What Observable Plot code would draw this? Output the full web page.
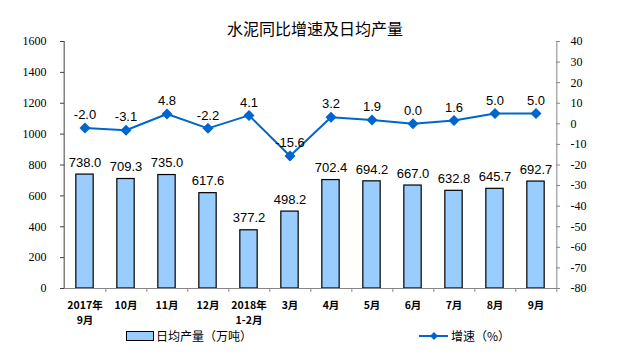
<!DOCTYPE html>
<html><head><meta charset="utf-8">
<script src="https://cdn.jsdelivr.net/npm/d3@7"></script>
<script src="https://cdn.jsdelivr.net/npm/@observablehq/plot@0.6"></script>
<style>
body{margin:0;background:#fff}
#wrap{position:relative;width:624px;height:353px;overflow:hidden;background:#fff}
#wrap svg.chart{position:absolute;left:0;top:0}
#title{position:absolute;left:0;top:17px;width:630px;text-align:center;font:16px "Noto Sans CJK SC",sans-serif;color:#000;line-height:22px}
.leg{position:absolute;top:327px;font:12px "Noto Sans CJK SC",sans-serif;color:#000;line-height:18px;display:flex;align-items:center}
</style></head><body>
<div id="wrap">
<div id="title">水泥同比增速及日均产量</div>
<div class="leg" style="left:126px"><svg width="30" height="18"><rect x="0.5" y="4.5" width="27" height="9" fill="#99CCFF" stroke="#000"/></svg><span>日均产量（万吨）</span></div>
<div class="leg" style="left:419px"><svg width="32" height="18"><line x1="0" y1="9" x2="29" y2="9" stroke="#0066CC" stroke-width="2"/><path d="M15,5L19,9L15,13L11,9Z" fill="#0066CC"/></svg><span>增速（%）</span></div>
</div>
<script>
const categories = ["2017年\n9月","10月","11月","12月","2018年\n1-2月","3月","4月","5月","6月","7月","8月","9月"];
const output = [738.0,709.3,735.0,617.6,377.2,498.2,702.4,694.2,667.0,632.8,645.7,692.7];
const growth = [-2.0,-3.1,4.8,-2.2,4.1,-15.6,3.2,1.9,0.0,1.6,5.0,5.0];
const leftTicks = [0,200,400,600,800,1000,1200,1400,1600];
const rightTicks = [-80,-70,-60,-50,-40,-30,-20,-10,0,10,20,30,40];

const data = categories.map((c,i)=>({cat:c, out:output[i], g:growth[i]}));
const W = 624, H = 353, ML = 60, MR = 64, MT = 41, MB = 65;
const step = (W - ML - MR) / categories.length;
const barW = 18;
const inset = (step - barW) / 2;
const axisGray = "#868686";
const serif = "Liberation Serif, Times New Roman, serif";
const sans = "Liberation Sans, Arial, sans-serif";
const cjk = "Noto Sans CJK SC, sans-serif";
const fmt = d => String(d);

const base = {width: W, height: H, marginLeft: ML, marginRight: MR, marginTop: MT, marginBottom: MB,
  x: {type: "band", domain: categories, padding: 0, axis: null, label: null}};

const p1 = Plot.plot({
  ...base,
  y: {domain: [0, 1600], axis: null, label: null},
  marks: [
    Plot.barY(data, {x: "cat", y: "out", fill: "#99CCFF", stroke: "#000", strokeWidth: 1.2, insetLeft: inset, insetRight: inset}),
    Plot.text(data, {x: "cat", y: "out", text: d => d.out.toFixed(1), dy: -12, fontSize: 13, fontFamily: sans, fill: "#000"}),
    Plot.ruleY([0], {stroke: axisGray}),
    Plot.ruleX([categories[0]], {x: d => d, dx: -step/2, y1: 0, y2: 1600, stroke: "#404040"}),
    Plot.tickY(leftTicks, {y: d => d, insetRight: (W - ML - MR) - 4, stroke: "#404040"}),
    Plot.ruleX(categories, {x: d => d, dx: step/2, y1: 0, y2: 0, insetBottom: -4, stroke: axisGray}),
    Plot.axisY(leftTicks, {anchor: "left", label: null, tickFormat: fmt, tickSize: 0, tickPadding: 14, fontSize: 12, fontFamily: serif, fill: "#000"}),
    Plot.axisX({label: null, tickSize: 0, tickPadding: 10, fontSize: 10.5, fontFamily: cjk, fontWeight: "bold", lineHeight: 1.4, fill: "#000"})
  ]
});

const p2 = Plot.plot({
  ...base,
  y: {domain: [-80, 40], axis: null, label: null},
  marks: [
    Plot.ruleX([categories[categories.length-1]], {x: d => d, dx: step/2, y1: -80, y2: 40, stroke: axisGray}),
    Plot.tickY(rightTicks, {y: d => d, insetLeft: (W - ML - MR) - 4, stroke: axisGray}),
    Plot.axisY(rightTicks, {anchor: "right", label: null, tickFormat: fmt, tickSize: 0, tickPadding: 10, fontSize: 12, fontFamily: serif, fill: "#000"}),
    Plot.line(data, {x: "cat", y: "g", stroke: "#0066CC", strokeWidth: 2}),
    Plot.dot(data, {x: "cat", y: "g", symbol: "diamond2", r: 4, fill: "#0066CC", stroke: "#0066CC"}),
    Plot.text(data, {x: "cat", y: "g", text: d => d.g.toFixed(1), dy: -13, fontSize: 13, fontFamily: sans, fill: "#000"})
  ]
});
p1.classList.add("chart"); p2.classList.add("chart");
p2.style.background = "transparent";
const wrap = document.getElementById("wrap");
wrap.insertBefore(p1, wrap.firstChild);
wrap.insertBefore(p2, p1.nextSibling);
</script>
</body></html>
